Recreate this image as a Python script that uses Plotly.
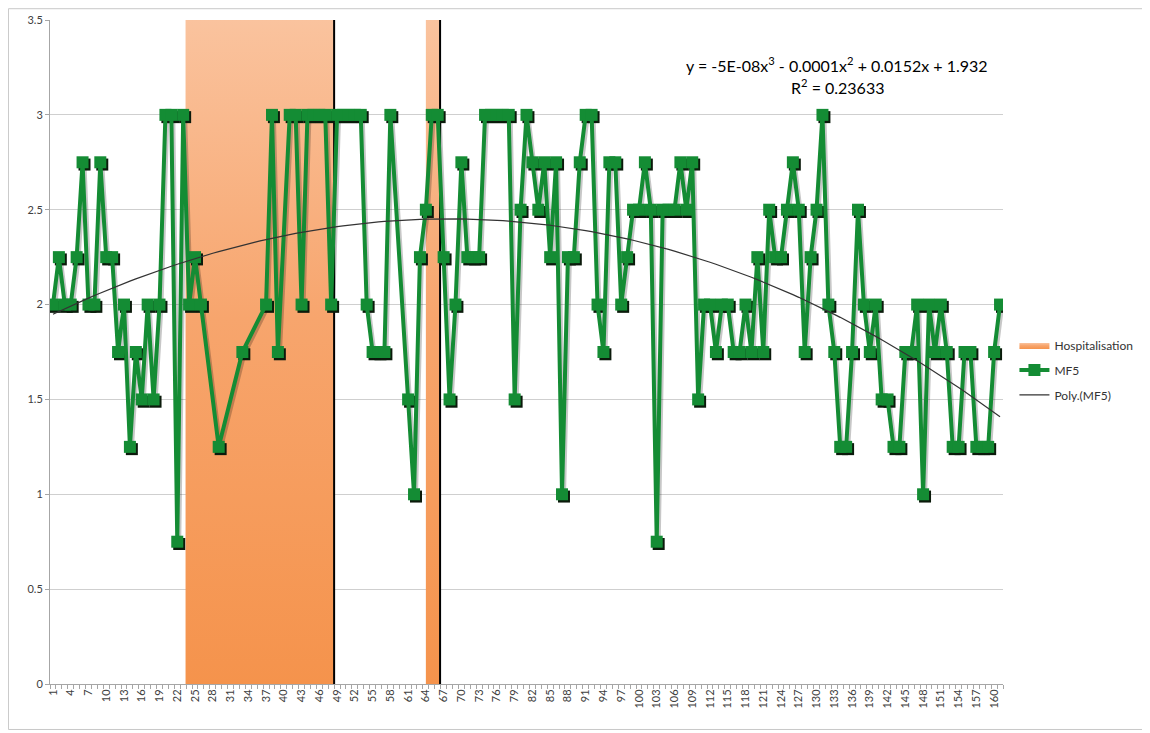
import numpy as np
import plotly.graph_objects as go

# ---- data ----
days = list(range(1, 162))
N = None
mf5 = [
    2, 2.25, 2, 2, 2.25, 2.75, 2, 2, 2.75, 2.25,            # 1-10
    2.25, 1.75, 2, 1.25, 1.75, 1.5, 2, 1.5, 2, 3,           # 11-20
    3, 0.75, 3, 2, 2.25, 2, N, N, 1.25, N,                  # 21-30
    N, N, 1.75, N, N, N, 2, 3, 1.75, N,                     # 31-40
    3, 3, 2, 3, 3, 3, 3, 2, 3, 3,                           # 41-50
    3, 3, 3, 2, 1.75, 1.75, 1.75, 3, N, N,                  # 51-60
    1.5, 1, 2.25, 2.5, 3, 3, 2.25, 1.5, 2, 2.75,            # 61-70
    2.25, 2.25, 2.25, 3, 3, 3, 3, 3, 1.5, 2.5,              # 71-80
    3, 2.75, 2.5, 2.75, 2.25, 2.75, 1, 2.25, 2.25, 2.75,    # 81-90
    3, 3, 2, 1.75, 2.75, 2.75, 2, 2.25, 2.5, 2.5,           # 91-100
    2.75, 2.5, 0.75, 2.5, 2.5, 2.5, 2.75, 2.5, 2.75, 1.5,   # 101-110
    2, 2, 1.75, 2, 2, 1.75, 1.75, 2, 1.75, 2.25,            # 111-120
    1.75, 2.5, 2.25, 2.25, 2.5, 2.75, 2.5, 1.75, 2.25, 2.5, # 121-130
    3, 2, 1.75, 1.25, 1.25, 1.75, 2.5, 2, 1.75, 2,          # 131-140
    1.5, 1.5, 1.25, 1.25, 1.75, 1.75, 2, 1, 2, 1.75,        # 141-150
    2, 1.75, 1.25, 1.25, 1.75, 1.75, 1.25, 1.25, 1.25, 1.75,# 151-160
    2,                                                      # 161
]
hosp_start = [23.4, 64.0]
hosp_end = [48.5, 66.4]
hosp_level = 3.5
equation_text = "y = -5E-08x<sup>3</sup> - 0.0001x<sup>2</sup> + 0.0152x + 1.932"
r2_text = "R<sup>2</sup> = 0.23633"
tick_days = list(range(1, 162, 3))

# ---- trend (cubic fit of the series) ----
xa = np.array([d for d, v in zip(days, mf5) if v is not None], float)
ya = np.array([v for v in mf5 if v is not None], float)
coef = np.polyfit(xa, ya, 3)
trend = np.polyval(coef, np.array(days, float))

GREEN = "#148C34"
FONT = "Lato, 'Open Sans', sans-serif"

fig = go.Figure()

# hospitalisation bands
for k, (s, e) in enumerate(zip(hosp_start, hosp_end)):
    fig.add_trace(go.Scatter(
        x=[s, s, e, e, s], y=[0, hosp_level, hosp_level, 0, 0],
        mode="lines", fill="toself", line=dict(width=0),
        fillcolor="#F8AC78",
        fillgradient=dict(type="vertical",
                          colorscale=[[0, "#F5934C"], [0.55, "#F7A56D"],
                                      [1, "#FAC39E"]]),
        name="Hospitalisation", showlegend=(k == 0), hoverinfo="skip",
        legendgroup="h", legendrank=1))
    fig.add_trace(go.Scatter(
        x=[e, e], y=[0, hosp_level], mode="lines",
        line=dict(color="black", width=2), showlegend=False, hoverinfo="skip"))

# shadow of the series
fig.add_trace(go.Scatter(
    x=[d + 0.33 for d in days],
    y=[(v - 0.012) if v is not None else None for v in mf5],
    mode="lines+markers", connectgaps=True,
    line=dict(color="rgba(0,0,0,0.22)", width=4),
    marker=dict(symbol="square", size=12, color="#0B1A0B"),
    showlegend=False, hoverinfo="skip"))

fig.add_trace(go.Scatter(
    x=days, y=mf5, mode="lines+markers", connectgaps=True, name="MF5",
    line=dict(color=GREEN, width=4),
    marker=dict(symbol="square", size=12, color=GREEN),
    legendgroup="m", legendrank=2))

fig.add_trace(go.Scatter(
    x=days, y=trend, mode="lines", name="Poly.(MF5)",
    line=dict(color="#333333", width=1.2), legendgroup="p", legendrank=3))

fig.add_annotation(xref="paper", yref="paper", x=0.826, y=0.933,
                   xanchor="center", yanchor="middle",
                   text=equation_text, showarrow=False,
                   font=dict(family=FONT, size=16, color="black"))
fig.add_annotation(xref="paper", yref="paper", x=0.826, y=0.9,
                   xanchor="center", yanchor="middle",
                   text=r2_text, showarrow=False,
                   font=dict(family=FONT, size=16, color="black"))

# outer frame
fig.add_shape(type="rect", xref="paper", yref="paper",
              x0=-0.0436, x1=1.1505, y0=-0.0685, y1=1.017,
              line=dict(color="#C8C8C8", width=1))

fig.update_layout(
    width=1150, height=733,
    margin=dict(l=42, r=155, t=12, b=57, autoexpand=False),
    paper_bgcolor="white", plot_bgcolor="white",
    font=dict(family=FONT, color="#404040"),
    legend=dict(x=1.012, y=0.473, yanchor="middle", xanchor="left",
                font=dict(size=12, color="#333333"),
                tracegroupgap=6, itemwidth=30, bgcolor="rgba(0,0,0,0)"),
    showlegend=True,
)
fig.update_xaxes(
    range=[0.5, 161.5], tickmode="array", tickvals=tick_days,
    ticktext=[str(d) for d in tick_days], tickangle=-90,
    tickfont=dict(size=11, color="#404040"), automargin=False,
    showgrid=False, zeroline=False, showline=True, linecolor="#A6A6A6",
    ticks="", minor=dict(tick0=0.5, dtick=1, ticks="outside", ticklen=4,
                         tickcolor="#A6A6A6"))
fig.update_yaxes(
    range=[0, 3.5], dtick=0.5, tickformat="~g", automargin=False,
    tickfont=dict(size=11, color="#404040"),
    showgrid=True, gridcolor="#CFCFCF", zeroline=False,
    showline=True, linecolor="#A6A6A6", ticks="outside", ticklen=4,
    tickcolor="#A6A6A6")

fig.write_html("out.html")
